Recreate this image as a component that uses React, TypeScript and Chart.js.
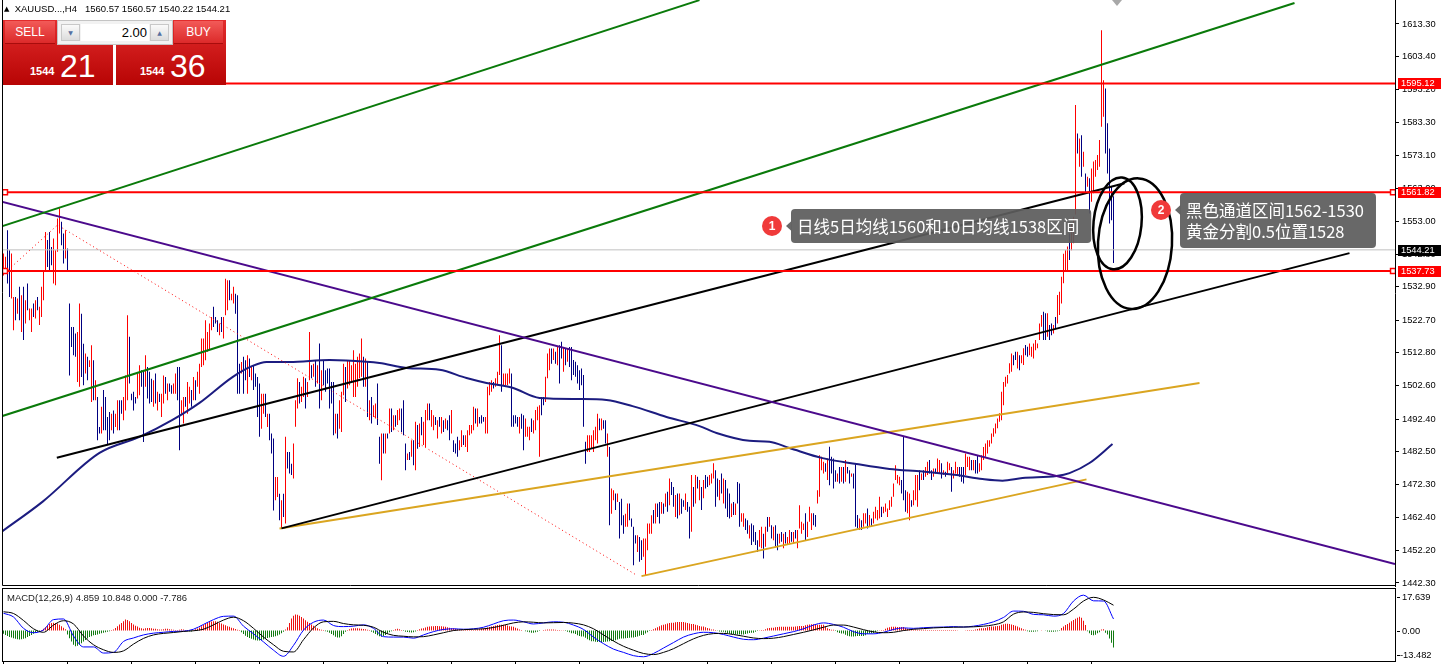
import React, { useEffect, useRef } from 'react';
import { Chart, registerables } from 'chart.js';

Chart.register(...registerables);
Chart.defaults.font.family = '"Liberation Sans", Arial, sans-serif';

// ---------------- price axis ----------------
const PRICE_MIN = 1441.38;
const PRICE_MAX = 1620.64;
const PRICE_TICKS = [1613.3, 1603.4, 1593.2, 1583.3, 1573.1, 1563.0, 1553.0, 1542.8, 1532.9, 1522.7, 1512.8, 1502.6, 1492.4, 1482.5, 1472.3, 1462.4, 1452.2, 1442.3];
const X_MIN = -0.75;
const X_MAX = 695.75;

// ---------------- H4 bars (bar index 0..555) ----------------
const barHigh = [
  1543.1,1542.1,1550.2,1544.1,1543.1,1529.8,1529.8,1529.3,1532.9,1530.3,
  1532.9,1528.8,1533.9,1526.3,1526.3,1527.8,1528.8,1529.8,1526.8,1532.9,
  1538.0,1549.7,1547.2,1549.7,1545.1,1547.7,1544.1,1553.8,1556.9,1552.8,
  1549.2,1550.2,1544.6,1527.8,1520.6,1520.6,1518.6,1519.1,1527.8,1524.7,
  1515.5,1512.5,1511.5,1510.4,1515.0,1510.4,1504.3,1499.2,1490.0,1496.2,
  1501.3,1499.2,1493.1,1494.6,1494.1,1495.1,1494.1,1498.2,1498.2,1498.2,
  1499.2,1505.8,1524.2,1517.6,1500.2,1500.8,1499.2,1506.4,1508.9,1507.4,
  1507.0,1512.0,1508.4,1506.9,1504.8,1504.3,1506.4,1500.8,1500.2,1500.2,
  1505.8,1505.3,1503.3,1503.3,1502.8,1503.3,1506.4,1508.4,1508.4,1498.2,
  1499.2,1499.2,1503.8,1502.3,1501.3,1505.3,1504.3,1506.9,1509.4,1517.1,
  1517.1,1522.7,1519.1,1521.7,1523.7,1526.8,1523.7,1522.7,1521.7,1523.7,
  1523.7,1535.4,1534.9,1534.9,1530.8,1532.9,1530.8,1530.3,1509.4,1509.9,
  1511.5,1510.4,1512.0,1511.0,1508.4,1508.9,1506.4,1505.3,1503.3,1500.2,
  1500.2,1500.2,1494.1,1494.1,1488.0,1486.5,1474.7,1474.7,1469.6,1467.6,
  1469.6,1487.0,1482.4,1482.4,1478.8,1485.0,1498.2,1504.9,1503.8,1502.3,
  1505.4,1504.9,1503.8,1519.1,1508.9,1509.4,1510.5,1508.9,1515.6,1507.4,
  1510.5,1507.4,1507.9,1507.9,1503.8,1503.8,1494.1,1494.1,1498.2,1500.8,
  1509.4,1508.4,1510.5,1510.5,1508.9,1513.5,1509.4,1511.5,1512.5,1517.1,
  1511.5,1511.0,1510.0,1498.2,1499.2,1496.7,1497.2,1503.3,1487.0,1488.0,
  1488.0,1488.0,1488.0,1495.7,1495.7,1493.6,1493.6,1495.2,1495.7,1495.7,
  1498.2,1485.0,1481.9,1482.4,1486.0,1486.0,1491.6,1490.6,1491.1,1493.1,
  1491.6,1495.2,1497.2,1497.2,1495.2,1493.6,1493.1,1492.1,1493.1,1493.1,
  1492.1,1492.6,1492.1,1493.6,1495.2,1486.0,1485.0,1487.0,1486.0,1489.0,
  1487.5,1487.5,1489.0,1490.6,1490.6,1496.2,1495.7,1495.7,1493.1,1493.6,
  1493.1,1493.1,1502.3,1503.8,1504.3,1503.8,1504.9,1506.9,1518.1,1515.0,
  1506.4,1506.4,1506.4,1507.9,1506.4,1493.6,1493.6,1493.1,1493.1,1494.1,
  1493.6,1492.6,1490.1,1490.1,1492.6,1492.1,1495.2,1496.2,1496.7,1499.2,
  1499.2,1505.4,1512.5,1514.0,1514.0,1514.0,1513.0,1514.5,1515.0,1516.1,
  1514.5,1514.0,1514.0,1514.5,1514.5,1510.5,1510.0,1508.9,1507.4,1507.9,
  1505.9,1485.5,1487.5,1487.5,1487.5,1489.0,1490.1,1494.1,1492.6,1492.6,
  1492.1,1492.1,1488.0,1483.9,1471.2,1470.7,1469.7,1469.7,1467.1,1468.1,
  1463.0,1463.5,1466.6,1466.6,1462.0,1459.5,1456.9,1456.9,1456.4,1455.4,
  1455.9,1455.9,1460.5,1460.5,1463.0,1464.6,1466.6,1466.6,1467.1,1467.1,
  1466.6,1469.7,1470.2,1474.3,1473.2,1471.7,1469.2,1469.7,1469.7,1468.1,
  1467.6,1469.7,1467.1,1465.6,1475.3,1471.7,1475.3,1474.8,1473.8,1471.7,
  1473.8,1475.3,1474.8,1475.3,1475.8,1478.9,1476.8,1474.3,1473.8,1475.8,
  1474.3,1473.8,1471.2,1469.7,1466.6,1467.1,1466.6,1473.2,1472.7,1463.6,
  1463.6,1462.0,1461.5,1460.0,1460.5,1460.0,1457.9,1455.4,1458.5,1459.5,
  1457.4,1459.5,1462.5,1462.5,1460.0,1459.5,1460.0,1457.4,1457.4,1457.9,
  1457.4,1457.9,1456.4,1458.5,1457.9,1457.9,1458.5,1458.5,1466.1,1461.0,
  1460.5,1463.6,1461.0,1465.6,1463.6,1463.6,1463.1,1470.7,1481.4,1480.9,
  1479.4,1478.9,1480.4,1484.0,1480.9,1480.4,1476.8,1475.8,1477.8,1477.8,
  1477.8,1479.9,1477.8,1476.8,1475.8,1475.8,1478.9,1463.1,1462.0,1461.5,
  1463.6,1463.6,1465.1,1463.1,1462.0,1464.1,1465.6,1464.6,1468.7,1465.6,
  1465.6,1466.6,1465.1,1467.6,1468.7,1472.7,1478.3,1475.3,1474.8,1473.8,
  1487.0,1470.7,1470.2,1469.7,1467.6,1470.7,1475.3,1475.3,1476.8,1475.8,
  1476.8,1477.8,1479.4,1479.9,1476.8,1477.3,1477.3,1480.4,1479.9,1478.9,
  1476.8,1476.3,1479.4,1478.9,1477.8,1476.8,1479.4,1477.8,1477.8,1477.8,
  1477.8,1481.9,1480.9,1480.9,1479.9,1479.9,1479.9,1481.4,1478.9,1481.4,
  1483.9,1485.0,1486.0,1486.0,1488.0,1489.6,1491.1,1492.6,1494.2,1500.8,
  1503.8,1505.4,1505.9,1509.5,1512.5,1512.0,1513.0,1513.0,1512.0,1512.0,
  1514.1,1515.1,1514.6,1515.6,1514.6,1515.6,1516.6,1515.6,1521.7,1524.3,
  1525.3,1524.8,1524.8,1521.2,1521.7,1521.2,1523.7,1530.4,1531.4,1536.0,
  1543.0,1544.1,1545.2,1549.2,1552.3,1554.3,1588.5,1579.8,1578.3,1579.3,
  1574.2,1567.6,1566.6,1566.1,1569.1,1571.2,1571.7,1573.2,1577.8,1611.4,
  1596.1,1593.6,1582.9,1575.2,1563.5,1560.57
];
const barLow = [
  1536.4,1537.5,1533.9,1529.8,1529.3,1519.6,1522.7,1524.7,1522.7,1519.1,
  1516.6,1521.7,1525.7,1522.7,1519.1,1523.7,1523.2,1525.7,1521.2,1523.7,
  1528.8,1537.5,1539.0,1537.5,1539.5,1533.9,1533.4,1543.6,1549.2,1545.6,
  1540.0,1541.6,1537.5,1505.8,1514.5,1512.0,1511.5,1503.8,1502.3,1505.3,
  1502.8,1506.4,1504.3,1508.4,1497.7,1498.2,1498.2,1486.0,1488.0,1488.0,
  1489.0,1489.0,1484.4,1486.0,1489.0,1488.0,1490.0,1489.0,1489.0,1494.1,
  1492.1,1495.1,1498.2,1503.3,1498.2,1495.1,1497.2,1498.7,1499.7,1502.3,
  1485.4,1502.3,1498.7,1497.2,1497.7,1496.2,1497.2,1495.1,1497.7,1493.1,
  1497.2,1500.2,1498.2,1500.8,1500.2,1500.2,1500.2,1498.2,1482.9,1494.1,
  1491.1,1496.2,1494.1,1497.2,1496.2,1498.2,1498.2,1502.3,1500.2,1508.4,
  1508.9,1510.4,1513.0,1513.5,1519.6,1520.6,1521.7,1519.1,1518.1,1519.1,
  1517.1,1524.2,1525.7,1528.8,1528.8,1527.8,1524.7,1500.2,1500.2,1506.4,
  1500.2,1504.3,1500.2,1505.3,1504.3,1501.3,1502.3,1493.1,1487.0,1489.5,
  1494.1,1493.1,1490.0,1486.0,1481.9,1464.5,1467.6,1468.6,1461.5,1459.0,
  1462.5,1460.5,1477.3,1475.8,1475.3,1474.3,1490.1,1495.7,1497.2,1497.7,
  1499.2,1495.7,1499.2,1504.3,1504.9,1505.4,1502.3,1503.3,1495.7,1498.2,
  1502.8,1500.8,1503.3,1495.7,1497.2,1487.5,1488.0,1486.5,1489.5,1488.5,
  1499.7,1497.7,1501.8,1502.8,1503.8,1499.2,1499.2,1502.3,1504.9,1505.4,
  1502.3,1502.3,1493.1,1492.1,1491.1,1493.1,1492.6,1490.6,1478.8,1473.7,
  1481.9,1481.9,1486.5,1488.0,1488.5,1489.0,1490.1,1490.6,1492.1,1488.5,
  1487.5,1476.8,1479.9,1479.9,1480.9,1478.3,1476.8,1483.4,1483.9,1487.5,
  1484.5,1483.9,1492.1,1492.1,1490.1,1489.0,1490.6,1486.5,1490.1,1488.0,
  1488.5,1489.5,1489.0,1486.0,1488.0,1482.4,1481.9,1480.9,1482.9,1483.9,
  1484.5,1483.9,1482.4,1487.5,1488.0,1489.0,1491.1,1490.1,1491.1,1491.1,
  1491.6,1488.0,1488.0,1499.7,1500.8,1501.8,1502.3,1502.8,1505.9,1500.8,
  1502.8,1502.8,1502.8,1503.3,1490.1,1490.1,1491.1,1490.1,1488.0,1489.5,
  1482.9,1487.0,1487.0,1486.0,1488.5,1488.0,1489.0,1492.1,1480.9,1493.6,
  1496.7,1497.7,1504.9,1507.4,1509.4,1510.5,1509.4,1508.9,1503.3,1511.0,
  1506.9,1508.9,1510.0,1508.4,1504.3,1505.9,1505.4,1503.3,1501.3,1502.8,
  1490.1,1478.8,1482.4,1482.4,1483.4,1482.4,1486.0,1485.0,1489.0,1489.0,
  1489.5,1485.0,1480.9,1460.0,1463.5,1467.6,1464.6,1467.1,1455.9,1460.0,
  1457.4,1459.5,1459.5,1461.5,1459.5,1447.7,1454.4,1451.8,1448.8,1449.3,
  1450.3,1444.7,1452.3,1457.4,1457.4,1460.5,1460.5,1462.5,1460.5,1463.5,
  1463.5,1465.6,1464.1,1466.1,1469.2,1465.6,1462.5,1462.0,1463.0,1463.5,
  1465.6,1464.6,1464.1,1455.9,1458.0,1465.6,1466.6,1471.2,1467.6,1464.6,
  1468.2,1471.2,1471.7,1472.2,1472.7,1474.3,1465.6,1468.7,1467.6,1469.7,
  1466.6,1465.1,1462.5,1462.0,1462.5,1463.1,1463.1,1466.6,1459.5,1461.0,
  1459.5,1458.5,1457.4,1455.9,1453.9,1454.9,1453.9,1451.8,1453.4,1452.9,
  1449.8,1453.4,1458.0,1459.5,1455.9,1455.4,1453.4,1452.3,1454.4,1454.9,
  1452.9,1454.4,1453.9,1454.4,1454.9,1454.4,1455.9,1452.9,1459.0,1457.4,
  1458.5,1455.4,1456.4,1461.0,1458.5,1460.0,1459.5,1466.6,1468.7,1476.8,
  1475.8,1476.3,1473.8,1472.2,1475.8,1471.2,1473.3,1473.3,1472.7,1473.3,
  1472.7,1473.3,1475.8,1472.7,1474.8,1471.2,1459.5,1459.0,1458.5,1458.5,
  1459.5,1460.5,1459.0,1459.5,1459.5,1460.5,1462.0,1461.5,1462.0,1462.5,
  1463.6,1464.1,1462.5,1464.6,1465.6,1468.7,1473.8,1472.7,1472.2,1469.7,
  1467.6,1464.1,1463.6,1461.5,1465.6,1466.1,1467.6,1465.6,1470.7,1473.8,
  1473.8,1474.8,1475.3,1475.8,1473.8,1474.8,1475.8,1475.8,1475.8,1474.3,
  1475.3,1474.8,1475.8,1476.8,1470.2,1474.3,1475.8,1475.3,1474.8,1473.3,
  1472.7,1475.3,1477.8,1476.8,1476.8,1476.8,1475.8,1475.8,1476.3,1476.8,
  1479.9,1480.9,1481.9,1484.0,1485.0,1487.0,1488.0,1489.6,1491.6,1492.1,
  1496.7,1502.3,1503.3,1506.4,1506.9,1508.9,1510.5,1507.9,1507.4,1509.5,
  1509.0,1512.0,1511.5,1512.0,1511.5,1511.0,1513.5,1514.1,1516.6,1520.7,
  1516.6,1516.6,1517.6,1516.6,1518.1,1518.6,1520.2,1521.7,1524.3,1527.8,
  1534.0,1538.0,1538.0,1541.1,1544.1,1546.2,1555.0,1573.7,1569.6,1566.6,
  1569.6,1561.5,1563.5,1555.3,1558.9,1561.5,1566.6,1568.6,1569.6,1581.9,
  1584.9,1573.7,1567.6,1552.3,1553.3,1540.22
];
// 1 = bullish bar (red), 0 = bearish bar (navy)
const barRise = [
  1,1,0,0,1,1,0,1,0,1, 0,1,0,1,1,0,1,0,1,1, 1,1,0,0,0,1,1,1,1,0, 0,1,0,0,0,0,0,1,1,0,
  0,1,0,1,1,0,1,0,0,1, 0,0,0,0,1,0,1,1,0,0, 1,1,1,0,0,0,0,1,1,0, 0,1,0,0,0,1,0,1,0,1,
  1,0,1,0,0,1,1,0,0,1, 1,0,1,1,0,1,0,1,1,1, 1,1,1,1,1,0,0,0,1,0, 1,1,1,0,1,1,0,0,0,1,
  0,0,1,0,1,0,0,0,0,1, 1,0,1,0,0,0,1,1,0,1, 0,1,0,0,0,1,1,1,0,1, 1,0,1,1,0,1,0,1,0,1,
  0,0,0,0,0,0,1,0,1,1, 1,0,1,1,1,1,1,1,1,1, 0,1,0,1,0,1,1,0,0,1, 0,1,0,1,0,1,0,1,1,0,
  0,0,1,0,1,0,1,0,1,0, 1,1,1,0,1,1,0,1,0,1, 0,1,0,0,1,0,0,0,1,1, 0,1,1,1,1,1,0,1,0,0,
  0,1,1,1,1,0,1,1,1,0, 1,1,1,1,0,0,0,0,1,0, 0,1,1,1,0,1,1,1,1,0, 0,1,1,1,0,1,0,1,0,0,
  1,0,1,0,0,0,0,0,0,0, 0,0,1,1,1,1,1,1,0,1, 0,0,1,0,1,1,0,1,0,0, 0,1,1,0,0,0,0,1,0,0,
  1,1,1,1,1,0,1,0,0,1, 0,1,0,1,0,0,1,0,1,0, 0,1,0,0,1,0,1,0,1,0, 1,0,0,1,1,1,0,0,1,0,
  1,0,0,0,1,0,1,0,0,1, 1,0,0,1,0,0,0,0,1,1, 0,1,0,1,0,1,0,0,1,0, 1,0,1,1,0,1,0,1,1,1,
  1,0,1,1,1,0,0,1,1,1, 1,0,1,0,0,0,0,1,0,1, 0,1,0,0,1,0,0,0,1,0, 1,1,0,1,0,1,1,1,1,0,
  1,1,1,1,1,1,1,1,1,0, 0,0,1,1,0,1,1,1,0,1, 0,1,1,0,0,1,0,1,1,0, 1,0,1,1,0,1,1,1,0,0,
  0,1,1,1,0,1,0,0,1,1, 1,1,1,1,1,1,1,1,1,1, 1,1,1,1,1,0,0,1,0,1, 1,0,0,1,1,1,1,1,1,1,
  0,0,1,0,0,1,0,1,1,1, 1,1,1,0,1,1,1,0,1,0, 1,0,1,0,1,1,1,1,1,1, 1,0,0,0,0,0
];

// ---------------- moving average (bar index, price) ----------------
const maBars = [-2,19.6,48,68,84.5,98,114.5,124.5,131.5,143,163,181.5,188,201.5,218,231.5,241.5,254.5,268,288,301.5,314.5,331.5,348,356.5,373,383,393,409.5,426.5,443,459.5,476.5,489.5,499.5,509.5,526.5,533,543,554.5];
const maValues = [1457.5,1467.2,1482.1,1487.0,1492.2,1497.4,1505.3,1508.7,1509.9,1509.9,1510.5,1510.0,1509.6,1508.1,1507.5,1505.0,1503.5,1502.0,1498.9,1498.6,1498.3,1496.4,1493.1,1490.3,1488.2,1485.8,1485.5,1483.6,1480.5,1478.7,1477.2,1476.4,1475.3,1474.1,1473.6,1474.4,1475.0,1475.9,1479.0,1484.8];

// ---------------- drawn objects (bar index, price) ----------------
const trendGreenUpper = [[-2, 1551.2], [348, 1620.6]];
const trendGreenLower = [[-2, 1493.1], [645.5, 1619.7]];
const trendPurple = [[-2, 1559.15], [695.75, 1448.1]];
const trendBlackUpper = [[26.65, 1480.6], [560.5, 1564.6]];
const trendBlackLower = [[139, 1459.0], [673, 1543.2]];
const trendOrangeUpper = [[138, 1459.0], [598, 1503.5]];
const trendOrangeLower = [[319, 1444.4], [541.5, 1474.0]];
const zigzag = [[-0.5, 1536.5], [27, 1551.8], [316.5, 1444.7]];
const LEVELS_RED = [1595.12, 1561.82, 1537.73];
const LEVEL_BID = 1544.21;

// ---------------- MACD(12,26,9) ----------------
const MACD_STEP = 5; // line samples every 5 bars
const macdMain = [
  7.9,6.2,1.0,-1.0,0.3,5.0,5.3,-2.5,-7.5,-7.5,
  -10.3,-10.0,-5.0,-3.4,-2.0,-1.2,-0.8,-0.4,-0.3,0.6,
  2.8,5.0,6.5,6.6,2.0,-1.5,-5.2,-9.0,-11.8,-6.8,
  0.2,3.8,4.8,2.3,1.8,2.0,2.6,1.0,-2.8,-3.0,
  -3.0,-3.5,-2.0,-0.5,0.5,0.8,0.6,0.8,1.5,3.0,
  4.5,4.8,4.0,3.0,3.5,4.0,3.8,2.5,0.5,-3.0,
  -6.0,-8.5,-10.0,-11.5,-12.0,-10.5,-8.0,-5.5,-3.0,-1.5,
  -0.8,-1.0,-1.8,-3.0,-4.0,-4.2,-3.5,-2.5,-1.5,-0.5,
  0.8,2.5,3.5,2.8,1.5,-0.5,-1.5,-1.5,-0.8,0.5,
  1.2,1.0,1.3,1.5,1.6,1.8,1.6,2.0,2.8,4.0,
  6.0,8.9,8.8,7.4,7.2,6.6,7.8,13.5,16.2,13.6,13.5,5.3
];
const macdSignal = [
  8.6,7.8,4.6,0.8,-0.8,2.5,4.5,3.0,-2.5,-6.5,
  -8.8,-10.0,-9.3,-6.2,-3.6,-2.0,-1.3,-0.9,-0.4,-0.1,
  0.6,2.6,4.8,6.1,4.5,1.0,-3.0,-6.5,-9.5,-9.8,
  -4.2,1.2,4.0,4.2,3.2,2.6,2.4,1.5,-0.8,-2.2,
  -2.6,-2.9,-2.8,-2.0,-1.0,0.0,0.4,0.6,0.8,1.4,
  2.4,3.5,4.0,3.8,3.5,3.6,3.7,3.4,2.6,0.8,
  -2.0,-4.8,-7.2,-9.0,-10.5,-11.0,-10.0,-8.3,-6.0,-3.8,
  -2.2,-1.4,-1.3,-1.8,-2.6,-3.4,-3.7,-3.5,-2.8,-1.8,
  -0.8,0.3,1.5,2.5,2.5,1.6,0.4,-0.6,-1.0,-0.8,
  0.0,0.6,0.9,1.2,1.4,1.5,1.6,1.7,2.0,2.6,
  4.0,7.5,8.5,8.3,7.7,7.3,7.2,9.8,13.5,15.2,14.0,11.6
];
const macdHist = [
  -1.5,-2,-2.5,-3,-3.2, -3.5,-3.8,-4,-4.1,-4,-3.8,-3.5, -3,-2.5,-2,-1.5,-1,-0.6, -0.3,0.3,
  0.8,1.5,2.3,3,3.4,3.6,3.5,3.2,2.6,2,1.3,0.6,
  -1.8,-3.5,-5,-6.5,-7.2,-7,-6.5,-5.8,-5,-4.3,-3.6,-3,-2.6,-2.2,-2,-1.8,
  -1.5,-1.2,-1,-0.8,-0.5,-0.3,0.2,
  0.5,1.2,2,2.8,3.5,4.2,5,4.8,4.3,3.5,2.8,2.2,1.8,1.3,1,0.8,
  1,1.2,1.2,1,0.8,0.8,0.6,0.5,0.5,0.6,0.8,0.8,0.6,0.5,0.4,0.3,0.3,
  0.4,0.6,0.5,0.3,0.2,-0.3,-0.4,0.3,
  0.6,0.9,1.4,2,2.6,3.1,3.5,3.9,4.1,4.3,4.3,4,3.6,3.2,2.8,2.4,2,1.7,1.3,1,0.7,0.4,0.2,
  -0.8,-1.6,-2.4,-3,-3.4,-3.8,-4.1,-4.4,-4.6,-4.6,-4.4,-4.1,-3.7,-3.4,-3.2,-3,-2.8,-2.6,-2.3,-1.8,-1.2,-0.6,
  0.5,1.5,3.5,5.5,6.8,7.3,7.2,6.8,6.2,5.5,4.7,4,3.4,2.8,2.2,1.5,1,
  0.6,0.4,0.3,-0.3,-0.6,
  -1,-1.6,-2.2,-2.8,-3.2,-3.2,-2.6,-1.6,
  -0.6,0.3,0.6,0.9,1,1.1,1,0.9,0.8,0.7,0.6,0.4,0.2,
  -0.5,-1,-1.6,-2.2,-2.6,-2.8,-2.5,-2,-1.4,
  -0.8,-0.3,0.3,0.6,0.8,
  0.6,0.3,-0.2,-0.5,-0.7,-0.8,-0.9,-0.8,-0.4,0.2,
  0.6,0.9,1.0,1.4,1.7,1.9,2.0,2.0,2.1,2.1,
  2.0,2.0,1.9,1.7,1.5,1.3,1.1,1.0,0.8,0.6,
  0.5,0.4,0.3,0.3,0.3,0.3,0.3,0.3,0.4,0.5,
  0.6,0.8,0.9,1.1,1.4,1.6,1.9,2.1,2.3,2.5,
  2.6,2.7,2.7,2.5,2.3,2.0,1.8,1.7,1.3,0.9,
  0.5,0.2,0,-0.3,-0.6,-0.8,-1.0,-1.0,-0.8,-0.5,
  -0.2,0,0.2,0.4,0.5,0.5,0.5,0.5,0.4,0.3,
  0.2,0.1,0.1,-0.2,-0.5,-0.8,-1.2,-1.2,-1.6,-2.1,
  -2.5,-2.7,-2.7,-3.3,-4.0,-4.5,-4.9,-4.9,-5.1,-5.2,
  -5.2,-5.2,-5.2,-5.1,-5.0,-4.9,-4.8,-4.8,-4.5,-4.1,
  -3.8,-3.6,-3.6,-3.5,-3.4,-3.3,-3.2,-3.2,-3.0,-2.7,
  -2.4,-2.0,-2.0,-1.4,-0.8,-0.2,0.3,0.6,1.0,1.5,
  2.0,2.4,2.6,2.9,3.2,3.4,3.6,3.6,3.8,3.9,
  3.9,3.9,3.9,3.7,3.4,3.2,3.0,3.0,2.7,2.4,
  2.1,1.8,1.8,1.5,1.2,0.9,0.5,0.5,0.2,-0.1,
  -0.4,-0.6,-0.6,-0.9,-1.2,-1.4,-1.6,-1.6,-1.7,-1.8,
  -1.8,-1.8,-1.8,-1.6,-1.3,-1.1,-1.0,-1.0,-0.6,-0.2,
  0.1,0.3,0.3,0.6,1.0,1.2,1.3,1.3,1.5,1.6,
  1.7,1.7,1.7,1.7,1.7,1.7,1.7,1.7,1.8,2.0,
  2.1,2.1,2.1,2.4,2.7,2.8,2.9,2.9,2.8,2.7,
  2.6,2.6,2.6,1.9,1.1,0.7,0.4,0.4,-0.2,-0.8,
  -1.1,-1.3,-1.3,-1.9,-2.4,-2.6,-2.7,-2.7,-2.6,-2.5,
  -2.5,-2.5,-2.5,-2.1,-1.6,-1.3,-1.2,-1.2,-0.7,-0.2,
  0.1,0.3,0.3,0.8,1.3,1.5,1.7,1.7,1.7,1.6,
  1.6,1.6,1.6,1.2,0.8,0.6,0.5,0.5,0.5,0.4,
  0.4,0.4,0.4,0.4,0.3,0.3,0.3,0.3,0.3,0.2,
  0.2,0.2,0.2,0.2,0.3,0.3,0.3,0.3,0.2,0.1,
  0.0,0.0,0.0,0.1,0.2,0.3,0.3,0.3,0.5,0.7,
  0.9,1.0,1.0,1.2,1.5,1.7,1.8,1.8,2.0,2.1,
  2.2,2.6,2.9,3.1,3.1,3,2.8,2.5,2.2,1.8,1.4,
  1,0.6,0.4,
  -0.3,-0.5,-0.5,-0.5,-0.4,-0.3,0,
  0.1,0,-0.1,
  -0.4,-0.5,-0.5,-0.5,-0.4,-0.3,
  -0.2,
  1.2,1.8,2.5,3,3.6,4.2,4.8,5.4,5.9,6.3,5.8,4.5,2.5,
  -0.3,-1.2,-2.0,-2.1,-1.9,-1.2,
  -0.8,0.5,0.6,-1.0,-1.8,-3.7,-5.6,-7.8
];
const MACD_MIN = -14.4;
const MACD_MAX = 17.639;
const MACD_AXIS = [17.639, 0, -13.482];
const TIME_TICKS = [0, 32, 64, 96, 128, 160, 192, 224, 256, 288, 320, 352, 384, 416, 448, 480, 512, 544];

// ---------------- annotations ----------------
const CALLOUTS = [
  { num: '1', bar: 384.25, price: 1551.5, lines: ['日线5日均线1560和10日均线1538区间'] },
  { num: '2', bar: 578.75, price: 1556.4, lines: ['黑色通道区间1562-1530', '黄金分割0.5位置1528'] },
];
const ELLIPSES = [
  { bar: 557, price: 1552.3, halfBars: 12, halfPrice: 14.1, tilt: 0.1 },
  { bar: 565.75, price: 1546.1, halfBars: 18.5, halfPrice: 20.0, tilt: 0.06 },
];

const RED = '#ff0000';
const NAVY = '#000080';
const AXIS_FONT = '9.3px "Liberation Sans", Arial, sans-serif';

function seg(points: number[][], color: string, width: number, order: number, dash: number[] = []) {
  return {
    type: 'line',
    data: points.map(([x, y]) => ({ x, y })),
    borderColor: color,
    borderWidth: width,
    borderDash: dash,
    pointRadius: 0,
    fill: false,
    tension: 0,
    order,
  };
}

function roundRectPath(ctx: any, x: number, y: number, w: number, h: number, r: number) {
  ctx.beginPath();
  ctx.moveTo(x + r, y);
  ctx.lineTo(x + w - r, y);
  ctx.arcTo(x + w, y, x + w, y + r, r);
  ctx.lineTo(x + w, y + h - r);
  ctx.arcTo(x + w, y + h, x + w - r, y + h, r);
  ctx.lineTo(x + r, y + h);
  ctx.arcTo(x, y + h, x, y + h - r, r);
  ctx.lineTo(x, y + r);
  ctx.arcTo(x, y, x + r, y, r);
  ctx.closePath();
}

const mainOverlay = {
  id: 'mainOverlay',
  afterDatasetsDraw(chart: any) {
    const { ctx, chartArea } = chart;
    const xs = chart.scales.x;
    const ys = chart.scales.y;
    ctx.save();
    ctx.beginPath();
    ctx.rect(chartArea.left, chartArea.top, chartArea.right - chartArea.left, chartArea.bottom - chartArea.top);
    ctx.clip();
    for (const e of ELLIPSES) {
      const cx = xs.getPixelForValue(e.bar);
      const cy = ys.getPixelForValue(e.price);
      const rx = Math.abs(xs.getPixelForValue(e.bar + e.halfBars) - cx);
      const ry = Math.abs(ys.getPixelForValue(e.price + e.halfPrice) - cy);
      ctx.beginPath();
      ctx.ellipse(cx, cy, rx, ry, e.tilt, 0, Math.PI * 2);
      ctx.lineWidth = 2.5;
      ctx.strokeStyle = '#000';
      ctx.stroke();
    }
    for (const c of CALLOUTS) {
      const cx = xs.getPixelForValue(c.bar);
      const cy = ys.getPixelForValue(c.price);
      ctx.font = '16.5px "Noto Sans CJK SC", sans-serif';
      const tw = Math.max(...c.lines.map((l) => ctx.measureText(l).width));
      const left = cx + 19;
      const top = cy - 17;
      const w = tw + 18;
      const h = 34 + (c.lines.length - 1) * 21;
      ctx.fillStyle = 'rgba(92,92,92,0.93)';
      roundRectPath(ctx, left, top, w, h, 4);
      ctx.fill();
      ctx.beginPath();
      ctx.moveTo(left + 0.5, cy - 5);
      ctx.lineTo(left - 5, cy);
      ctx.lineTo(left + 0.5, cy + 5);
      ctx.closePath();
      ctx.fill();
      ctx.fillStyle = '#fff';
      ctx.textAlign = 'left';
      ctx.textBaseline = 'middle';
      c.lines.forEach((l, i) => ctx.fillText(l, left + 6, cy + i * 21 + 0.5));
      ctx.beginPath();
      ctx.arc(cx, cy, 10, 0, Math.PI * 2);
      ctx.fillStyle = '#f03a3a';
      ctx.fill();
      ctx.fillStyle = '#fff';
      ctx.font = 'bold 12px "Liberation Sans", Arial, sans-serif';
      ctx.textAlign = 'center';
      ctx.fillText(c.num, cx, cy + 0.5);
    }
    ctx.restore();
  },
  afterDraw(chart: any) {
    const { ctx, chartArea } = chart;
    const ys = chart.scales.y;
    ctx.save();
    ctx.strokeStyle = '#000';
    ctx.lineWidth = 1;
    ctx.beginPath();
    ctx.moveTo(2.5, chartArea.top);
    ctx.lineTo(2.5, chartArea.bottom - 0.5);
    ctx.lineTo(chartArea.right, chartArea.bottom - 0.5);
    ctx.stroke();
    const tags = [
      ...LEVELS_RED.map((v) => ({ v, bg: RED })),
      { v: LEVEL_BID, bg: '#000' },
    ];
    ctx.font = AXIS_FONT;
    ctx.textAlign = 'left';
    ctx.textBaseline = 'middle';
    for (const t of tags) {
      const py = Math.round(ys.getPixelForValue(t.v));
      ctx.fillStyle = t.bg;
      ctx.fillRect(chartArea.right + 3, py - 5, 43, 11);
      ctx.fillStyle = '#fff';
      ctx.fillText(t.v.toFixed(2), chartArea.right + 6, py + 0.5);
    }
    ctx.fillStyle = '#a8a8a8';
    ctx.beginPath();
    ctx.moveTo(1112, 0);
    ctx.lineTo(1122, 0);
    ctx.lineTo(1117, 6);
    ctx.closePath();
    ctx.fill();
    ctx.restore();
  },
};

const macdOverlay = {
  id: 'macdOverlay',
  afterDraw(chart: any) {
    const { ctx, chartArea } = chart;
    const ys = chart.scales.y;
    ctx.save();
    ctx.strokeStyle = '#000';
    ctx.lineWidth = 1;
    ctx.strokeRect(2.5, 1.5, chartArea.right - 2, 73);
    ctx.font = AXIS_FONT;
    ctx.fillStyle = '#000';
    ctx.textAlign = 'left';
    ctx.textBaseline = 'middle';
    MACD_AXIS.forEach((v, i) => {
      const shift = i === 0 ? 5 : i === MACD_AXIS.length - 1 ? -5 : 0;
      const py = Math.round(ys.getPixelForValue(v)) + shift;
      ctx.fillRect(chartArea.right + 2, py, 3, 1);
      const label = v === 0 ? '0.00' : v.toFixed(3);
      ctx.fillText(label, chartArea.right + 7 - (v < 0 ? 2 : 0), py + 0.5);
    });
    ctx.restore();
  },
};

function buildMain(): any {
  const bars = barHigh.map((h, j) => ({ x: j, y: [barLow[j], h] }));
  const levelDatasets = LEVELS_RED.map((v, i) => ({
    type: 'line',
    data: [
      { x: X_MIN, y: v },
      { x: 0.75, y: v },
      { x: 694.75, y: v },
      { x: X_MAX, y: v },
    ],
    borderColor: RED,
    borderWidth: 2,
    pointRadius: i === 0 ? 0 : [0, 3.5, 3.5, 0],
    pointStyle: 'rect',
    pointBackgroundColor: '#fff',
    pointBorderColor: RED,
    pointBorderWidth: 1.5,
    fill: false,
    order: 1,
  }));
  return {
    type: 'bar',
    data: {
      datasets: [
        {
          type: 'bar',
          data: bars,
          backgroundColor: barRise.map((r) => (r ? RED : NAVY)),
          borderWidth: 0,
          barThickness: 1,
          inflateAmount: 0,
          grouped: false,
          order: 10,
        },
        {
          type: 'line',
          data: [{ x: X_MIN, y: LEVEL_BID }, { x: X_MAX, y: LEVEL_BID }],
          borderColor: '#c0c0c0',
          borderWidth: 1,
          pointRadius: 0,
          order: 9,
        },
        {
          type: 'line',
          data: maBars.map((b, i) => ({ x: b, y: maValues[i] })),
          borderColor: '#1c1c80',
          borderWidth: 2,
          pointRadius: 0,
          cubicInterpolationMode: 'monotone',
          order: 6,
        },
        seg(zigzag, RED, 1, 5, [1, 3]),
        seg(trendGreenUpper, '#0a7a0a', 2, 4),
        seg(trendGreenLower, '#0a7a0a', 2, 4),
        seg(trendPurple, '#4b0a8c', 2, 4),
        seg(trendBlackUpper, '#000', 2, 4),
        seg(trendBlackLower, '#000', 2, 4),
        seg(trendOrangeUpper, '#daa520', 2, 4),
        seg(trendOrangeLower, '#daa520', 2, 4),
        ...levelDatasets,
      ],
    },
    options: {
      animation: false,
      responsive: false,
      maintainAspectRatio: false,
      events: [],
      layout: { padding: { left: 2, top: 0, right: 0, bottom: 1 } },
      plugins: { legend: { display: false }, tooltip: { enabled: false } },
      scales: {
        x: { type: 'linear', display: false, min: X_MIN, max: X_MAX, offset: false },
        y: {
          type: 'linear',
          position: 'right',
          min: PRICE_MIN,
          max: PRICE_MAX,
          afterBuildTicks: (s: any) => {
            s.ticks = PRICE_TICKS.map((v) => ({ value: v }));
          },
          afterFit: (s: any) => {
            s.width = 49;
            s.paddingTop = 0;
            s.paddingBottom = 0;
          },
          ticks: {
            autoSkip: false,
            padding: 3,
            color: '#000',
            font: { size: 9.3, family: '"Liberation Sans", Arial, sans-serif' },
            callback: (v: any) => Number(v).toFixed(2),
          },
          grid: { drawOnChartArea: false, tickLength: 4, color: '#000' },
          border: { display: true, color: '#000', width: 1 },
        },
      },
    },
    plugins: [mainOverlay],
  };
}

function buildMacd(): any {
  return {
    type: 'bar',
    data: {
      datasets: [
        {
          type: 'bar',
          data: macdHist.map((v, j) => ({ x: j, y: v })),
          backgroundColor: macdHist.map((v) => (v >= 0 ? '#ee1111' : '#127a12')),
          borderWidth: 0,
          barThickness: 1,
          inflateAmount: 0,
          grouped: false,
          order: 5,
        },
        {
          type: 'line',
          data: macdMain.map((v, k) => ({ x: k * MACD_STEP, y: v })),
          borderColor: '#0000ff',
          borderWidth: 1,
          pointRadius: 0,
          cubicInterpolationMode: 'monotone',
          order: 2,
        },
        {
          type: 'line',
          data: macdSignal.map((v, k) => ({ x: k * MACD_STEP, y: v })),
          borderColor: '#000',
          borderWidth: 1,
          pointRadius: 0,
          cubicInterpolationMode: 'monotone',
          order: 1,
        },
      ],
    },
    options: {
      animation: false,
      responsive: false,
      maintainAspectRatio: false,
      events: [],
      layout: { padding: { left: 2, top: 5, right: 0, bottom: 0 } },
      plugins: { legend: { display: false }, tooltip: { enabled: false } },
      scales: {
        x: {
          type: 'linear',
          min: X_MIN,
          max: X_MAX,
          offset: false,
          afterBuildTicks: (s: any) => {
            s.ticks = TIME_TICKS.map((v) => ({ value: v }));
          },
          afterFit: (s: any) => {
            s.height = 2;
          },
          ticks: { display: false },
          grid: { drawOnChartArea: false, offset: false, tickLength: 2, color: '#000' },
          border: { display: false },
        },
        y: {
          type: 'linear',
          position: 'right',
          min: MACD_MIN,
          max: MACD_MAX,
          afterFit: (s: any) => {
            s.width = 49;
            s.paddingTop = 0;
            s.paddingBottom = 0;
          },
          ticks: { display: false },
          grid: { display: false },
          border: { display: false },
        },
      },
    },
    plugins: [macdOverlay],
  };
}

const txt: React.CSSProperties = {
  position: 'absolute',
  fontFamily: '"Liberation Sans", Arial, sans-serif',
  whiteSpace: 'pre',
};

export default function App() {
  const mainRef = useRef<HTMLCanvasElement>(null);
  const macdRef = useRef<HTMLCanvasElement>(null);

  useEffect(() => {
    const c1 = new Chart(mainRef.current as HTMLCanvasElement, buildMain());
    const c2 = new Chart(macdRef.current as HTMLCanvasElement, buildMacd());
    return () => {
      c1.destroy();
      c2.destroy();
    };
  }, []);

  const panel = 'linear-gradient(#e22c2c, #b70404)';
  const head = 'linear-gradient(#f25a58, #dc2a2a)';

  return (
    <div style={{ position: 'absolute', left: 0, top: 0, width: 1444, height: 664, background: '#fff', overflow: 'hidden' }}>
      <canvas ref={mainRef} width={1444} height={587} style={{ position: 'absolute', left: 0, top: 0, width: 1444, height: 587 }} />
      <canvas ref={macdRef} width={1444} height={77} style={{ position: 'absolute', left: 0, top: 587, width: 1444, height: 77 }} />

      {/* symbol header */}
      <div style={{ ...txt, left: 4, top: 3, fontSize: 9.5, lineHeight: '12px', color: '#000' }}>
        <span style={{ fontSize: 7, fontFamily: '"DejaVu Sans", sans-serif', verticalAlign: 1 }}>▲</span>
        {'  XAUUSD...,H4   1560.57 1560.57 1540.22 1544.21'}
      </div>

      {/* one-click trading panel */}
      <div style={{ position: 'absolute', left: 3, top: 20, width: 223, height: 65, background: panel }} />
      <div style={{ position: 'absolute', left: 5, top: 21, width: 50, height: 22, background: head, borderBottom: '1px solid #a80c0c', color: '#fff', font: '12px "Liberation Sans", Arial, sans-serif', display: 'flex', alignItems: 'center', justifyContent: 'center' }}>SELL</div>
      <div style={{ position: 'absolute', left: 174, top: 21, width: 49, height: 22, background: head, borderBottom: '1px solid #a80c0c', color: '#fff', font: '12px "Liberation Sans", Arial, sans-serif', display: 'flex', alignItems: 'center', justifyContent: 'center' }}>BUY</div>
      <div style={{ position: 'absolute', left: 57, top: 20, width: 116, height: 25, background: '#f2f2f2', border: '1px solid #c4c4c4', boxSizing: 'border-box' }}>
        <div style={{ position: 'absolute', left: 3, top: 3, width: 19, height: 17, boxSizing: 'border-box', border: '1px solid #c8c8c8', background: 'linear-gradient(#fafafa,#dcdcdc)', color: '#5470a0', fontSize: 6, display: 'flex', alignItems: 'center', justifyContent: 'center', fontFamily: '"DejaVu Sans", sans-serif' }}>▼</div>
        <div style={{ position: 'absolute', left: 23, top: 3, width: 68, height: 17, background: '#fff', color: '#000', font: '13px "Liberation Sans", Arial, sans-serif', lineHeight: '17px', textAlign: 'right', paddingRight: 2, boxSizing: 'border-box' }}>2.00</div>
        <div style={{ position: 'absolute', left: 92, top: 3, width: 19, height: 17, boxSizing: 'border-box', border: '1px solid #c8c8c8', background: 'linear-gradient(#fafafa,#dcdcdc)', color: '#5470a0', fontSize: 6, display: 'flex', alignItems: 'center', justifyContent: 'center', fontFamily: '"DejaVu Sans", sans-serif' }}>▲</div>
      </div>
      <div style={{ position: 'absolute', left: 113, top: 45, width: 3, height: 40, background: '#fff' }} />
      <div style={{ ...txt, left: 30, top: 66, fontSize: 11, fontWeight: 'bold', lineHeight: '11px', color: '#fff' }}>1544</div>
      <div style={{ ...txt, left: 60, top: 50, fontSize: 32, lineHeight: '32px', color: '#fff' }}>21</div>
      <div style={{ ...txt, left: 140, top: 66, fontSize: 11, fontWeight: 'bold', lineHeight: '11px', color: '#fff' }}>1544</div>
      <div style={{ ...txt, left: 170, top: 50, fontSize: 32, lineHeight: '32px', color: '#fff' }}>36</div>

      {/* indicator header */}
      <div style={{ ...txt, left: 7, top: 592, fontSize: 9.5, lineHeight: '12px', color: '#1a1a1a' }}>
        MACD(12,26,9) 4.859 10.848 0.000 -7.786
      </div>
    </div>
  );
}
